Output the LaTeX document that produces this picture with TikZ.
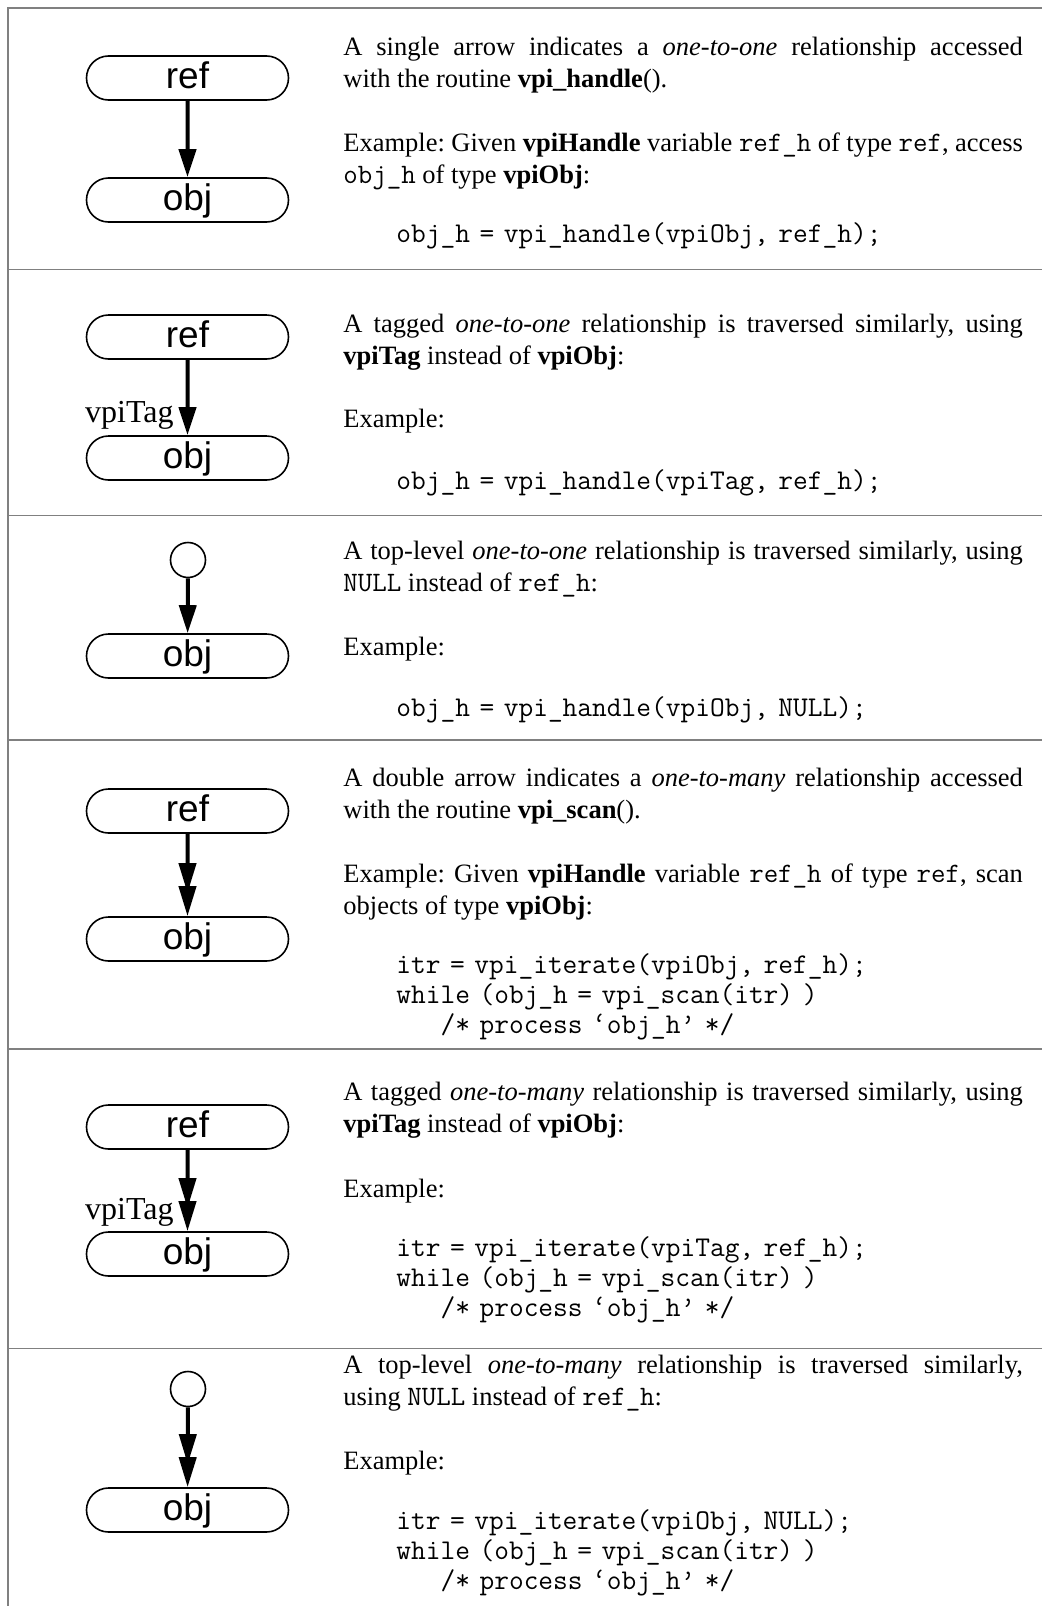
\documentclass[tikz,border=0pt]{standalone}
\usepackage{fontspec}
\setmainfont{Liberation Serif}
\setsansfont{Liberation Sans}
\usepackage{tikz}
\usetikzlibrary{arrows.meta, positioning, shapes.misc}
\definecolor{cRULE}{HTML}{808080}
\frenchspacing

% typewriter sizes
\newcommand{\codefont}{\ttfamily\fontsize{14.3}{15}\selectfont}
\newcommand{\tx}[1]{{\ttfamily\fontsize{14.05}{16.15}\selectfont #1}}

\tikzset{
  vobj/.style={rounded rectangle, draw, line width=0.8pt, minimum width=101pt,
    minimum height=22pt, inner sep=0pt, text height=10.5pt, text depth=0pt,
    font=\sffamily\fontsize{18.5}{18.5}\selectfont},
  topnode/.style={circle, draw, line width=0.8pt, minimum size=17.5pt, inner sep=0pt},
  rel/.style={line width=2pt, -{Triangle[length=14pt,width=8.5pt]}},
  relmany/.style={line width=2pt,
    -{Triangle[length=15pt,width=8.5pt,sep=-3.5pt]Triangle[length=15pt,width=8.5pt]}},
  tag/.style={anchor=base east, inner sep=0pt, font=\fontsize{16}{16}\selectfont},
  desc/.style={anchor=base west, text width=339.75pt, align=justify, inner sep=0pt,
    font=\fontsize{13.25}{16.15}\selectfont},
  code/.style={anchor=base west, text width=320pt, align=left, inner sep=0pt,
    font=\codefont},
  rowline/.style={draw=cRULE, line width=0.75pt}
}

\begin{document}
\begin{tikzpicture}[x=0.5pt, y=-0.5pt]
  \useasboundingbox (0,0) rectangle (1042,1606);

  % Table rules
  \draw[rowline] (8,1606) -- (8,8) -- (1042,8);
  \foreach \yy in {269.5, 515.4, 739.8, 1049.2, 1348.4}
    \draw[rowline] (8,\yy) -- (1042,\yy);

  % Row 1: one-to-one
  \node[vobj] (refA) at (187.5,78) {ref};
  \node[vobj] (objA) at (187.5,200) {obj};
  \draw[rel] (refA) -- (objA);
  \node[desc] (descA) at (343,55) {A single arrow indicates a \emph{one-to-one} relationship accessed\linebreak
    with the routine \textbf{vpi\_handle}().};
  \node[desc] (exA) at (343,151) {Example: Given \textbf{vpiHandle} variable \tx{ref\_h} of type \tx{ref}, access\linebreak
    \tx{obj\_h} of type \textbf{vpiObj}:};
  \node[code] (codeA) at (396,242) {obj\_h = vpi\_handle(vpiObj, ref\_h);};

  % Row 2: tagged one-to-one
  \node[vobj] (refB) at (187.5,337) {ref};
  \node[vobj] (objB) at (187.5,458) {obj};
  \draw[rel] (refB) -- (objB);
  \node[tag] (tagB) at (174,422.5) {vpiTag};
  \node[desc] (descB) at (343,332) {A tagged \emph{one-to-one} relationship is traversed similarly, using\linebreak
    \textbf{vpiTag} instead of \textbf{vpiObj}:};
  \node[desc] (exB) at (343,427) {Example:};
  \node[code] (codeB) at (396,489) {obj\_h = vpi\_handle(vpiTag, ref\_h);};

  % Row 3: top-level one-to-one
  \node[topnode] (topC) at (188,560) {};
  \node[vobj] (objC) at (187.5,656) {obj};
  \draw[rel] (topC) -- (objC);
  \node[desc] (descC) at (343,559) {A top-level \emph{one-to-one} relationship is traversed similarly, using\linebreak
    \tx{NULL} instead of \tx{ref\_h}:};
  \node[desc] (exC) at (343,655) {Example:};
  \node[code] (codeC) at (396,716) {obj\_h = vpi\_handle(vpiObj, NULL);};

  % Row 4: one-to-many
  \node[vobj] (refD) at (187.5,811) {ref};
  \node[vobj] (objD) at (187.5,939) {obj};
  \draw[relmany] (refD) -- (objD);
  \node[desc] (descD) at (343,786) {A double arrow indicates a \emph{one-to-many} relationship accessed\linebreak
    with the routine \textbf{vpi\_scan}().};
  \node[desc] (exD) at (343,882) {Example: Given \textbf{vpiHandle} variable \tx{ref\_h} of type \tx{ref}, scan\linebreak
    objects of type \textbf{vpiObj}:};
  \node[code] (codeD) at (396,973) {itr = vpi\_iterate(vpiObj, ref\_h);\\
    while (obj\_h = vpi\_scan(itr) )\\
    \hphantom{xxx}/* process ‘obj\_h’ */};

  % Row 5: tagged one-to-many
  \node[vobj] (refE) at (187.5,1127) {ref};
  \node[vobj] (objE) at (187.5,1254) {obj};
  \draw[relmany] (refE) -- (objE);
  \node[tag] (tagE) at (174,1219) {vpiTag};
  \node[desc] (descE) at (343,1100) {A tagged \emph{one-to-many} relationship is traversed similarly, using\linebreak
    \textbf{vpiTag} instead of \textbf{vpiObj}:};
  \node[desc] (exE) at (343,1197) {Example:};
  \node[code] (codeE) at (396,1256) {itr = vpi\_iterate(vpiTag, ref\_h);\\
    while (obj\_h = vpi\_scan(itr) )\\
    \hphantom{xxx}/* process ‘obj\_h’ */};

  % Row 6: top-level one-to-many
  \node[topnode] (topF) at (188,1389) {};
  \node[vobj] (objF) at (187.5,1510) {obj};
  \draw[relmany] (topF) -- (objF);
  \node[desc] (descF) at (343,1373) {A top-level \emph{one-to-many} relationship is traversed similarly,\linebreak
    using \tx{NULL} instead of \tx{ref\_h}:};
  \node[desc] (exF) at (343,1469) {Example:};
  \node[code] (codeF) at (396,1529) {itr = vpi\_iterate(vpiObj, NULL);\\
    while (obj\_h = vpi\_scan(itr) )\\
    \hphantom{xxx}/* process ‘obj\_h’ */};
\end{tikzpicture}
\end{document}
